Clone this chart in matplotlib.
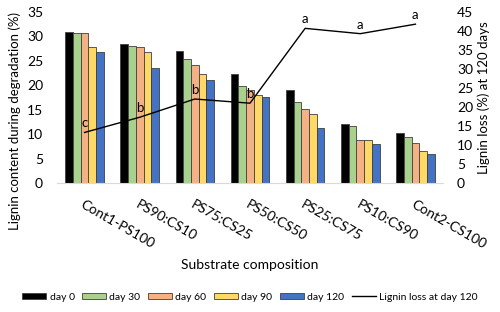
import numpy as np
import matplotlib.pyplot as plt

plt.rcParams['font.family'] = ['Lato', 'DejaVu Sans']

# данные
categories = ["Cont1-PS100", "PS90:CS10", "PS75:CS25", "PS50:CS50",
              "PS25:CS75", "PS10:CS90", "Cont2-CS100"]
day0 = [31.0, 28.5, 27.1, 22.4, 19.0, 12.0, 10.3]
day30 = [30.8, 28.1, 25.4, 19.9, 16.6, 11.7, 9.5]
day60 = [30.8, 27.9, 24.2, 19.0, 15.1, 8.9, 8.1]
day90 = [27.9, 26.9, 22.3, 18.0, 14.1, 8.7, 6.6]
day120 = [26.9, 23.5, 21.1, 17.7, 11.3, 8.0, 5.9]
lignin_loss = [13.3, 17.3, 22.1, 21.0, 40.7, 39.3, 41.8]
letters = ["c", "b", "b", "b", "a", "a", "a"]

series = [day0, day30, day60, day90, day120]
names = ["day 0", "day 30", "day 60", "day 90", "day 120"]
colors = ["#000000", "#A9D18E", "#F4B183", "#FFD966", "#4472C4"]

fig = plt.figure(figsize=(5, 3.12), dpi=100)
ax = fig.add_axes([0.114, 0.4135, 0.772, 0.548])
x = np.arange(len(categories))
w = 0.14
for i, (vals, name, c) in enumerate(zip(series, names, colors)):
    ax.bar(x + (i - 2) * w, vals, w, color=c, edgecolor="#404040",
           linewidth=0.6, label=name)

ax.set_xlim(-0.5, len(categories) - 0.5)
ax.set_ylim(0, 35)
ax.set_yticks(range(0, 36, 5))
ax.set_xticks(x)
ax.set_xticklabels(categories, rotation=-30, ha="left", rotation_mode="anchor")
ax.tick_params(axis="x", length=0, pad=11, labelsize=10)
ax.tick_params(axis="y", length=0, pad=10, labelsize=10)
for s in ["top", "right", "left"]:
    ax.spines[s].set_visible(False)
ax.spines["bottom"].set_color("#d9d9d9")
ax.set_ylabel("Lignin content during degradation (%)", fontsize=9.5)
ax.yaxis.set_label_coords(-0.094, 0.36)
ax.set_xlabel("Substrate composition", fontsize=10, labelpad=6)

ax2 = ax.twinx()
ax2.plot(x, lignin_loss, color="black", linewidth=1, label="Lignin loss at day 120")
for xi, yi, t in zip(x, lignin_loss, letters):
    ax2.text(xi, yi + 0.8, t, ha="center", va="bottom", fontsize=9.5)
ax2.set_ylim(0, 45)
ax2.set_yticks(range(0, 46, 5))
ax2.tick_params(axis="y", length=0, labelsize=10, pad=10)
for s in ["top", "right", "left", "bottom"]:
    ax2.spines[s].set_visible(False)
ax2.set_ylabel("Lignin loss (%) at 120 days", fontsize=9.5, labelpad=3)

h1, l1 = ax.get_legend_handles_labels()
h2, l2 = ax2.get_legend_handles_labels()
fig.legend(h1 + h2, l1 + l2, loc="center", bbox_to_anchor=(0.5, 0.048), ncol=6,
           frameon=False, fontsize=7.5, handlelength=2.3, handleheight=0.6,
           handletextpad=0.3, columnspacing=0.75)

fig.savefig("out.png", dpi=100)
